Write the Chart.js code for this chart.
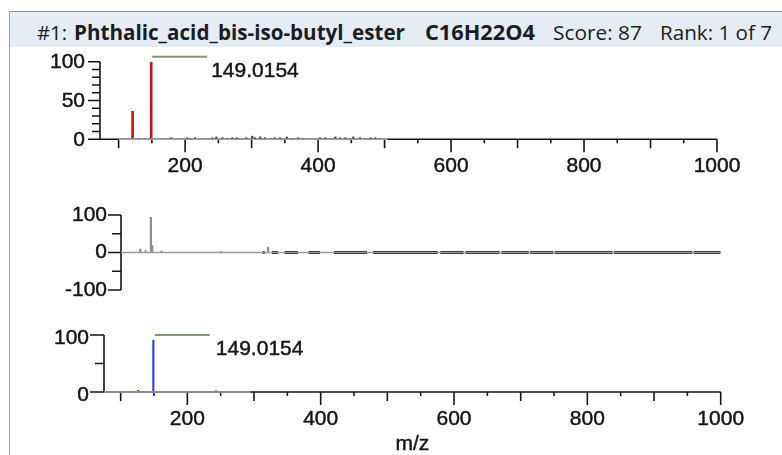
<!DOCTYPE html>
<html>
<head>
<meta charset="utf-8">
<script src="https://cdn.jsdelivr.net/npm/chart.js@4/dist/chart.umd.min.js"></script>
<style>
  body { margin: 0; background: #fff; width: 782px; height: 455px; overflow: hidden; position: relative; }
  #frame { position: absolute; left: 9px; top: 11px; width: 773px; height: 444px;
           border-left: 1px solid #a3a3a3; border-top: 1px solid #8f8f8f; }
  #header { position: absolute; left: 10px; top: 12px; width: 772px; height: 35px; background: #e6ecf3; }
  #header span { position: absolute; top: 19.5px; transform: translateY(-50%); white-space: nowrap;
                 font-family: "Open Sans", "Noto Sans", sans-serif; color: #1c1c24; line-height: 1; }
  canvas { position: absolute; left: 0; top: 0; }
</style>
</head>
<body>
<div id="frame"></div>
<div id="header"></div>
<canvas id="topSpec" width="782" height="455"></canvas>
<canvas id="midSpec" width="782" height="455"></canvas>
<canvas id="botSpec" width="782" height="455"></canvas>
<script>
  // header texts
  var headerParts = ['#1:', 'Phthalic_acid_bis-iso-butyl_ester', 'C16H22O4', 'Score: 87', 'Rank: 1 of 7'];
  var peakLabel = '149.0154';
  var xTitle = 'm/z';

  // top spectrum (red)
  var topMz = [121, 149];
  var topInt = [36, 99];
  var topNoiseMz = [179, 203, 208, 215, 235, 241, 247, 256, 263, 271, 278, 283, 292, 301, 305, 313, 320, 328,
                    335, 343, 353, 362, 370, 377, 403, 411, 418, 426, 433, 441, 448, 453, 463, 471, 479, 486, 493];
  var topNoiseInt = [2, 2, 1, 2, 1, 2, 3, 2, 1, 2, 2, 1, 2, 4, 2, 3, 2, 1,
                     2, 2, 3, 1, 2, 1, 2, 2, 1, 3, 2, 2, 1, 3, 2, 1, 2, 2, 1];
  var topBaseline = [100, 505];

  // middle spectrum (grey)
  var midMz = [133, 141, 149, 151, 165, 254, 325];
  var midInt = [9, 5, 94, 19, 4, 3, 14];
  var midNoise = [[317, 320], [331, 340], [350, 370], [386, 403], [424, 474], [483, 580], [584, 619],
                  [622, 673], [676, 717], [719, 754], [756, 843], [845, 963], [965, 1005]];
  var midBaseline = [104, 1006];

  // bottom spectrum (blue)
  var botMz = [126, 149];
  var botInt = [3, 91];
  var botNoiseMz = [243];
  var botNoiseInt = [2];
  var botBaseline = [75, 294];

  var xTickLabels = [200, 400, 600, 800, 1000];
  var topYLabels = [0, 50, 100];
  var midYLabels = [-100, 0, 100];
  var botYLabels = [0, 100];

  var LABEL_FONT = '21px "Liberation Sans", Arial, sans-serif';

  // fit header pieces into their slots
  (function () {
    var slots = [[37, 67, 'normal'], [74, 405, 'bold'], [425, 535, 'bold'], [553, 642, 'normal'], [660, 772, 'normal']];
    var hdr = document.getElementById('header');
    var m = document.createElement('canvas').getContext('2d');
    headerParts.forEach(function (t, i) {
      var s = slots[i];
      m.font = s[2] + ' 100px "Open Sans"';
      var w = m.measureText(t).width;
      var el = document.createElement('span');
      el.textContent = t;
      el.style.left = (s[0] - 10) + 'px';
      el.style.fontWeight = s[2];
      el.style.fontSize = (100 * (s[1] - s[0]) / w).toFixed(2) + 'px';
      hdr.appendChild(el);
    });
  })();

  function bars(mz, val, color, width) {
    return {
      type: 'bar',
      data: mz.map((m, i) => ({ x: m, y: val[i] })),
      backgroundColor: color,
      barThickness: width,
      grouped: false,
      clip: false
    };
  }

  function baseline(range, color, width) {
    return {
      type: 'line',
      data: [{ x: range[0], y: 0 }, { x: range[1], y: 0 }],
      borderColor: color, borderWidth: width, pointRadius: 0, clip: false
    };
  }

  function segments(list, color, width) {
    var pts = [];
    list.forEach(s => { pts.push({ x: s[0], y: 0 }, { x: s[1], y: 0 }, { x: s[1], y: null }); });
    return {
      type: 'line', data: pts, borderColor: color, borderWidth: width,
      pointRadius: 0, spanGaps: false, clip: false
    };
  }

  // text a touch heavier, like the screenshot
  function label(ctx, txt, x, y) {
    ctx.fillText(txt, x, y);
    ctx.lineWidth = 0.45;
    ctx.strokeText(txt, x, y);
  }

  function makeAxes(cfg) {
    return {
      id: 'specAxes',
      beforeDatasetsDraw(chart) {
        var ctx = chart.ctx, x = chart.scales.x, y = chart.scales.y;
        var x0 = x.getPixelForValue(x.min), x1 = x.getPixelForValue(x.max);
        var y0 = y.getPixelForValue(0);
        ctx.save();
        ctx.strokeStyle = '#151515';
        ctx.fillStyle = '#151515';
        ctx.lineWidth = 1.6;
        // y axis + ticks
        ctx.beginPath();
        ctx.moveTo(x0, y.getPixelForValue(y.min));
        ctx.lineTo(x0, y.getPixelForValue(y.max));
        for (var v = y.min; v <= y.max; v += cfg.yStep) {
          var len = cfg.yLabels.includes(v) ? cfg.yMajor : cfg.yMinor;
          var py = y.getPixelForValue(v);
          ctx.moveTo(x0 - len, py);
          ctx.lineTo(x0, py);
        }
        ctx.stroke();
        ctx.font = LABEL_FONT;
        ctx.textAlign = 'right';
        ctx.textBaseline = 'middle';
        cfg.yLabels.forEach(function (v) {
          label(ctx, String(v), x0 - cfg.yGap, y.getPixelForValue(v) + cfg.yDy);
        });
        if (cfg.xAxis) {
          ctx.lineWidth = 1.6;
          ctx.beginPath();
          ctx.moveTo(x0, y0);
          ctx.lineTo(x1, y0);
          for (var t = 100; t <= 1000; t += 50) {
            if (t < x.min) continue;
            var l = t % 200 === 0 ? 13 : (t % 100 === 0 ? 9 : 4);
            var px = x.getPixelForValue(t);
            ctx.moveTo(px, y0);
            ctx.lineTo(px, y0 + l);
          }
          ctx.stroke();
          ctx.textAlign = 'center';
          xTickLabels.forEach(function (t) {
            label(ctx, String(t), x.getPixelForValue(t), y0 + 27);
          });
        }
        if (cfg.title) {
          ctx.textAlign = 'center';
          label(ctx, cfg.title, (x0 + x1) / 2, y0 + 52);
        }
        ctx.restore();
      },
      afterDatasetsDraw(chart) {
        if (!cfg.annot) return;
        var ctx = chart.ctx, x = chart.scales.x, y = chart.scales.y;
        var a = cfg.annot;
        var sx = x.getPixelForValue(a.mz) + a.dx;
        var ly = y.getPixelForValue(100) + a.lineDy;
        ctx.save();
        ctx.strokeStyle = '#86996a';
        ctx.lineWidth = 2;
        ctx.beginPath();
        ctx.moveTo(sx, ly);
        ctx.lineTo(sx + 55, ly);
        ctx.stroke();
        ctx.fillStyle = '#151515';
        ctx.strokeStyle = '#151515';
        ctx.font = LABEL_FONT;
        ctx.textAlign = 'left';
        ctx.textBaseline = 'middle';
        label(ctx, peakLabel, sx + 55 + a.gap, y.getPixelForValue(100) + a.textDy);
        ctx.restore();
      }
    };
  }

  function spectrum(id, xr, yr, pad, datasets, cfg) {
    return new Chart(document.getElementById(id), {
      type: 'bar',
      data: { datasets: datasets },
      options: {
        responsive: false,
        animation: false,
        devicePixelRatio: 1,
        layout: { padding: pad },
        plugins: { legend: { display: false }, tooltip: { enabled: false } },
        scales: {
          x: { type: 'linear', min: xr[0], max: xr[1], offset: false, display: false },
          y: { type: 'linear', min: yr[0], max: yr[1], display: false }
        }
      },
      plugins: [makeAxes(cfg)]
    });
  }

  spectrum('topSpec', [72, 1000], [0, 100],
    { left: 100, right: 65, top: 61.7, bottom: 315.7 },
    [
      baseline(topBaseline, '#a0a0a0', 1.5),
      bars(topNoiseMz, topNoiseInt, '#3a3a3a', 1.5),
      bars(topMz, topInt, '#c01818', 2)
    ],
    { yStep: 10, yLabels: topYLabels, yMajor: 12, yMinor: 8, yGap: 15, yDy: 1, xAxis: true,
      annot: { mz: topMz[1], dx: 1, lineDy: -5, gap: 4, textDy: 10 } });

  spectrum('midSpec', [104, 1006], [-100, 100],
    { left: 121, right: 61, top: 215, bottom: 165 },
    [
      baseline(midBaseline, '#9a9a9a', 1.5),
      segments(midNoise, '#222222', 2.8),
      bars(midMz, midInt, '#8c8c8c', 1.5)
    ],
    { yStep: 50, yLabels: midYLabels, yMajor: 13, yMinor: 9, yGap: 14, yDy: 0, xAxis: false });

  spectrum('botSpec', [75, 1000], [0, 100],
    { left: 104, right: 61.3, top: 335, bottom: 63 },
    [
      baseline(botBaseline, '#a0a0a0', 1.5),
      bars(botNoiseMz, botNoiseInt, '#333333', 2),
      bars(botMz, botInt, '#3b3bf5', 1.5)
    ],
    { yStep: 50, yLabels: botYLabels, yMajor: 14, yMinor: 9, yGap: 15, yDy: 3, xAxis: true, title: xTitle,
      annot: { mz: botMz[1], dx: 1.5, lineDy: 0, gap: 6, textDy: 14 } });
</script>
</body>
</html>
